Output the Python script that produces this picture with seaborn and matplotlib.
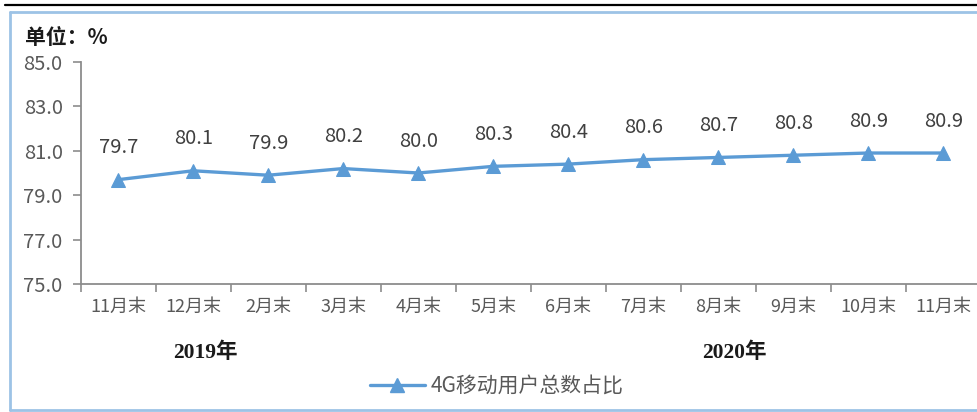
import numpy as np
import pandas as pd
import seaborn as sns
import matplotlib.pyplot as plt
from matplotlib.lines import Line2D
from matplotlib.ticker import FixedLocator

months = ["11月末", "12月末", "2月末", "3月末", "4月末", "5月末",
          "6月末", "7月末", "8月末", "9月末", "10月末", "11月末"]
share_4g = [79.7, 80.1, 79.9, 80.2, 80.0, 80.3, 80.4, 80.6, 80.7, 80.8, 80.9, 80.9]
years = ["2019年", "2020年"]
year_pos = [1.16, 8.22]
y_ticks = [75.0, 77.0, 79.0, 81.0, 83.0, 85.0]
series_name = "4G移动用户总数占比"

sns.set_theme(style="white")
plt.rcParams["font.family"] = ["Noto Sans CJK SC", "DejaVu Sans"]

LINE = "#5B9BD5"
AXIS = "#8C8C8C"
TEXT = "#595959"

df = pd.DataFrame({"idx": np.arange(len(months)), "val": share_4g})

fig = plt.figure(figsize=(9.78, 4.12), dpi=100)
ax = fig.add_axes([80.7 / 978, 128 / 412, 900 / 978, 222 / 412])

sns.lineplot(data=df, x="idx", y="val", ax=ax, color=LINE, linewidth=2.4,
             marker="^", markersize=10, markeredgecolor=LINE, legend=False)

for i, v in enumerate(share_4g):
    ax.annotate(f"{v:.1f}", (i, v), xytext=(0, 23), textcoords="offset points",
                ha="center", va="center", fontsize=14.5, color="#404040")

ax.set_xlim(-0.5, len(months) - 0.5)
ax.set_ylim(75, 85)
ax.set_yticks(y_ticks)
ax.set_yticklabels([f"{t:.1f}" for t in y_ticks], fontsize=14.5, color=TEXT)
ax.set_xticks(np.arange(len(months)))
ax.set_xticklabels(months, fontsize=13, color=TEXT)
ax.xaxis.set_minor_locator(FixedLocator(np.arange(len(months) + 1) - 0.5))
ax.tick_params(axis="x", which="major", length=0, pad=10)
ax.tick_params(axis="x", which="minor", length=6, width=1.2, color=AXIS, bottom=True)
ax.tick_params(axis="y", which="major", length=6, width=1.2, color=AXIS, left=True, pad=7)
ax.set_xlabel("")
ax.set_ylabel("")

for s in ["top", "right"]:
    ax.spines[s].set_visible(False)
for s in ["left", "bottom"]:
    ax.spines[s].set_color(AXIS)
    ax.spines[s].set_linewidth(1.3)

for yr, xp in zip(years, year_pos):
    ax.text(xp, -0.31, yr, transform=ax.get_xaxis_transform(), ha="center", va="center",
            fontsize=15.5, fontweight="bold", color="#1a1a1a",
            family=["Liberation Serif", "Noto Sans CJK SC"])

fig.text(25 / 978, 1 - 38 / 412, "单位：%", ha="left", va="center",
         fontsize=15, fontweight="bold", color="#1a1a1a")

handle = Line2D([], [], color=LINE, linewidth=2.4, marker="^", markersize=10)
fig.legend([handle], [series_name], loc="center", bbox_to_anchor=(497 / 978, 1 - 386 / 412),
           frameon=False, fontsize=15, handlelength=2.6, handletextpad=0.3,
           labelcolor=TEXT)

# outer frame
fig.add_artist(Line2D([5 / 978, 1], [1 - 5 / 412] * 2, color="black", linewidth=1.6,
                      transform=fig.transFigure))
frame_c = "#9DC3E6"
fig.add_artist(Line2D([10 / 978, 1], [1 - 12 / 412] * 2, color=frame_c, linewidth=2,
                      transform=fig.transFigure))
fig.add_artist(Line2D([10 / 978, 10 / 978], [1 - 12 / 412, 1 - 410 / 412], color=frame_c,
                      linewidth=2, transform=fig.transFigure))
fig.add_artist(Line2D([10 / 978, 1], [1 - 410 / 412] * 2, color=frame_c, linewidth=2,
                      transform=fig.transFigure))

fig.savefig("out.png", dpi=100)
